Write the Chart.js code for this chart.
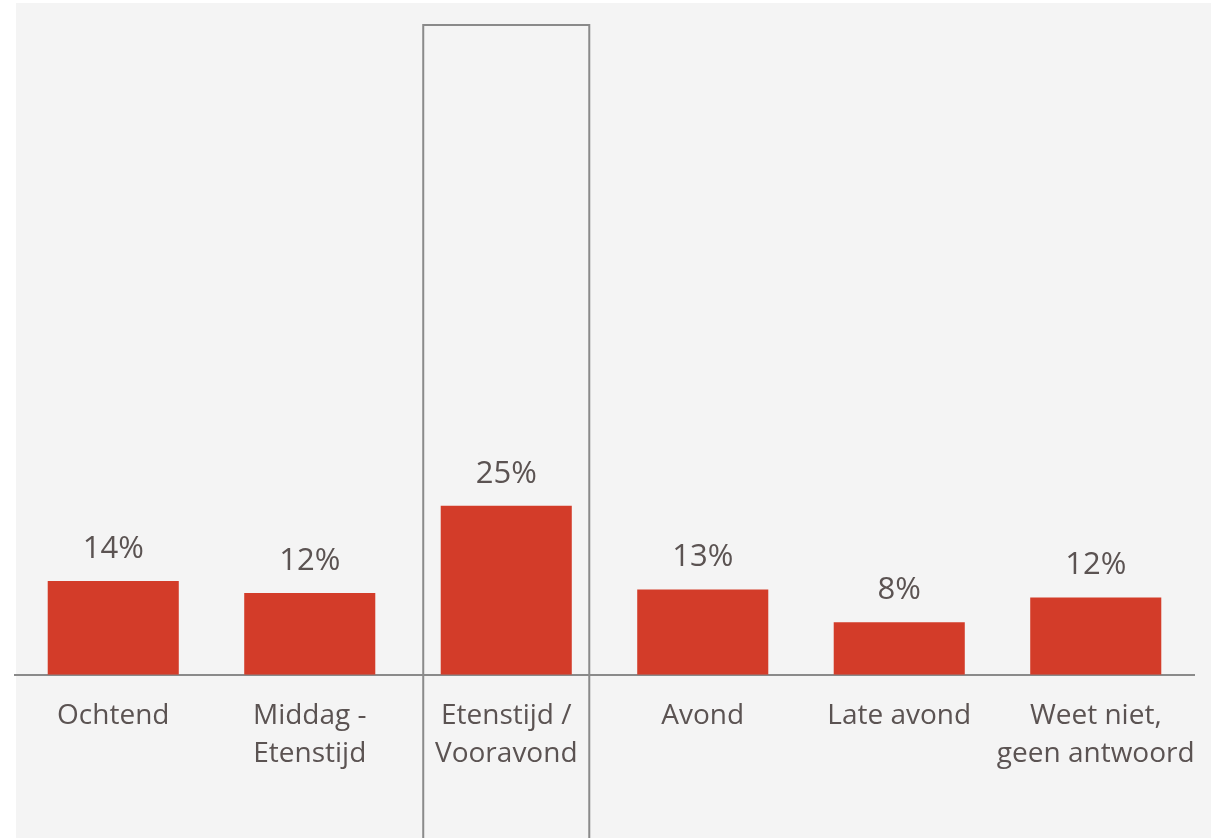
<!DOCTYPE html>
<html>
<head>
<meta charset="utf-8">
<script src="https://cdn.jsdelivr.net/npm/chart.js@4"></script>
<style>
  html, body { margin: 0; padding: 0; background: #ffffff; }
  #wrap { width: 1221px; height: 838px; position: relative; }
</style>
</head>
<body>
<div id="wrap"><canvas id="c"></canvas></div>
<script>
const categories = [
  'Ochtend',
  ['Middag -', 'Etenstijd'],
  ['Etenstijd /', 'Vooravond'],
  'Avond',
  'Late avond',
  ['Weet niet,', 'geen antwoord']
];
const values = [14.1, 12.3, 25.4, 12.8, 7.9, 11.6];
const highlightIndex = 2;

const FONT = "'Open Sans', 'Noto Sans', sans-serif";
const TEXT = '#5b5352';
const BAR = '#d33c29';
const GREY = '#8a8a8a';

const panelPlugin = {
  id: 'panel',
  beforeDraw(chart) {
    const ctx = chart.ctx;
    ctx.save();
    ctx.fillStyle = '#f4f4f4';
    ctx.fillRect(16, 3, 1195, chart.height - 3);
    ctx.restore();
  }
};

const overlayPlugin = {
  id: 'overlay',
  afterDraw(chart) {
    const ctx = chart.ctx;
    const x = chart.scales.x;
    const meta = chart.getDatasetMeta(0);
    // value labels
    ctx.save();
    ctx.fillStyle = TEXT;
    ctx.font = '31px ' + FONT;
    ctx.textAlign = 'center';
    ctx.textBaseline = 'middle';
    meta.data.forEach((bar, i) => {
      ctx.fillText(Math.round(values[i]) + '%', bar.x, bar.y - 32);
    });
    // highlight box
    const cx = x.getPixelForValue(highlightIndex);
    const step = x.getPixelForValue(1) - x.getPixelForValue(0);
    const half = step * 0.845 / 2;
    ctx.strokeStyle = GREY;
    ctx.lineWidth = 2;
    ctx.beginPath();
    ctx.moveTo(cx - half, chart.height + 5);
    ctx.lineTo(cx - half, chart.chartArea.top + 16);
    ctx.lineTo(cx + half, chart.chartArea.top + 16);
    ctx.lineTo(cx + half, chart.height + 5);
    ctx.stroke();
    ctx.restore();
  }
};

new Chart(document.getElementById('c'), {
  type: 'bar',
  data: {
    labels: categories,
    datasets: [{
      data: values,
      backgroundColor: BAR,
      borderWidth: 0,
      barPercentage: 0.667,
      categoryPercentage: 1.0
    }]
  },
  options: {
    responsive: true,
    maintainAspectRatio: false,
    animation: false,
    devicePixelRatio: 1,
    layout: { padding: { left: 15, right: 27, top: 9, bottom: 43 } },
    plugins: { legend: { display: false }, tooltip: { enabled: false } },
    scales: {
      x: {
        grid: { display: false, drawTicks: false },
        border: { display: true, color: GREY, width: 2 },
        ticks: {
          color: TEXT,
          font: { family: FONT, size: 28, lineHeight: 1.36 },
          padding: 22,
          maxRotation: 0,
          autoSkip: false
        }
      },
      y: {
        display: false,
        min: 0,
        max: 100
      }
    }
  },
  plugins: [panelPlugin, overlayPlugin]
});
</script>
</body>
</html>
